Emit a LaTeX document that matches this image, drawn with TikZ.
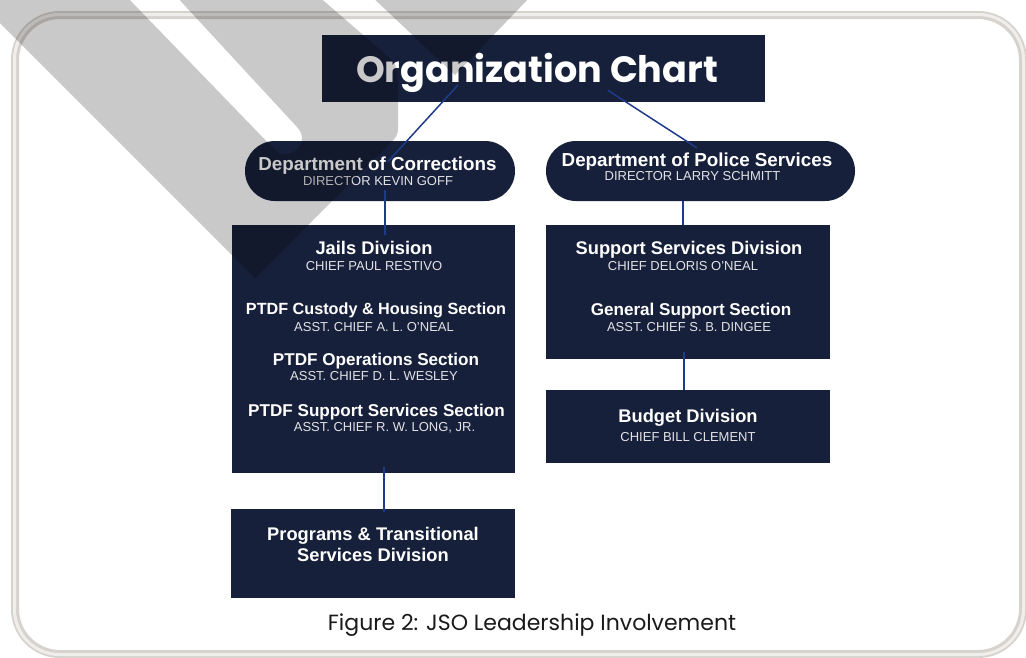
\documentclass[tikz,border=0pt]{standalone}
\usepackage{fontspec}
\setmainfont{Liberation Sans}
\newfontfamily\poppins{Poppins}
\usetikzlibrary{calc}
\definecolor{navy}{RGB}{23,32,58}
\definecolor{linkblue}{RGB}{30,58,138}
\definecolor{subgray}{RGB}{226,226,230}
\definecolor{framegray}{RGB}{214,210,206}
\definecolor{framelight}{RGB}{240,238,235}
\definecolor{captext}{RGB}{26,26,26}
\begin{document}
\begin{tikzpicture}[x=1pt,y=-1pt,
  box/.style={fill=navy, draw=none, inner sep=0pt},
  pill/.style={box, rounded corners=29.9pt},
  hd/.style={text=white, font=\bfseries\fontsize{18.3}{20}\selectfont, inner sep=0pt, anchor=base},
  dept/.style={text=white, font=\bfseries\fontsize{18.8}{20}\selectfont, inner sep=0pt, anchor=base},
  sec/.style={text=white, font=\bfseries\fontsize{17.1}{19}\selectfont, inner sep=0pt, anchor=base},
  sub/.style={text=subgray, font=\fontsize{13}{15}\selectfont, inner sep=0pt, anchor=base},
  link/.style={draw=linkblue, line width=1.5pt}
]
\useasboundingbox (0,0) rectangle (1026,657);
\fill[white] (0,0) rectangle (1026,657);
% frame
\draw[framegray, line width=8pt, rounded corners=45pt] (15,15) rectangle (1023,654);
\draw[framelight, line width=3pt, rounded corners=45pt] (14.5,14.5) rectangle (1023.5,654.5);

% boxes
\node[box, minimum width=443pt, minimum height=66.5pt] (title) at (543.5,68.25) {};
\node[pill, minimum width=270pt, minimum height=60pt] (corr) at (380,171) {};
\node[pill, minimum width=309pt, minimum height=60pt] (police) at (700.5,171) {};
\node[box, minimum width=283pt, minimum height=248pt] (jails) at (373.5,349) {};
\node[box, minimum width=284pt, minimum height=134pt] (support) at (688,292) {};
\node[box, minimum width=284pt, minimum height=73pt] (budget) at (688,426.5) {};
\node[box, minimum width=284pt, minimum height=89pt] (programs) at (373,553.5) {};

% texts
\node[text=white, font=\poppins\bfseries\fontsize{36.6}{40}\selectfont, inner sep=0pt, anchor=base] (titleT) at (537,82) {Organization Chart};
\node[dept] (corrT) at (377.5,170) {Department of Corrections};
\node[sub] (corrS) at (378,185.5) {DIRECTOR KEVIN GOFF};
\node[dept] (polT) at (697,166.5) {Department of Police Services};
\node[sub] (polS) at (692.5,180.7) {DIRECTOR LARRY SCHMITT};
\node[hd] (jailsT) at (374,254.3) {Jails Division};
\node[sub] (jailsS) at (374,270) {CHIEF PAUL RESTIVO};
\node[sec, font=\bfseries\fontsize{16.2}{19}\selectfont] (custT) at (376,314) {PTDF Custody \& Housing Section};
\node[sub] (custS) at (374,331) {ASST. CHIEF A. L. O’NEAL};
\node[sec] (opsT) at (376,365) {PTDF Operations Section};
\node[sub] (opsS) at (374,380.7) {ASST. CHIEF D. L. WESLEY};
\node[sec] (pssT) at (376.5,416.7) {PTDF Support Services Section};
\node[sub] (pssS) at (384.5,431) {ASST. CHIEF R. W. LONG, JR.};
\node[hd] (ssdT) at (689,254.3) {Support Services Division};
\node[sub] (ssdS) at (683,270) {CHIEF DELORIS O’NEAL};
\node[sec] (gssT) at (691,315.5) {General Support Section};
\node[sub] (gssS) at (689,331) {ASST. CHIEF S. B. DINGEE};
\node[hd] (budT) at (688,422.3) {Budget Division};
\node[sub] (budS) at (688,441.7) {CHIEF BILL CLEMENT};
\node[hd] (progT1) at (373,540.7) {Programs \& Transitional};
\node[hd] (progT2) at (373,561) {Services Division};
\node[text=captext, font=\poppins\fontsize{22}{24}\selectfont, inner sep=0pt, anchor=base] (caption) at (532,630.5) {Figure 2: JSO Leadership Involvement};

% connectors
\coordinate (t1) at ($(title.south west)+(136,-16.5)$);
\coordinate (c1) at ($(corr.north west)+(143,21)$);
\coordinate (t2) at ($(title.south west)+(286,-11.5)$);
\coordinate (p1) at ($(police.north west)+(151,7)$);
\coordinate (c2) at ($(corr.south)+(5,-11)$);
\coordinate (j1) at ($(jails.north)+(11.5,10)$);
\coordinate (p2) at ($(police.south)+(-17.5,0)$);
\coordinate (s1) at ($(support.north)+(-5,0)$);
\coordinate (j2) at ($(jails.south)+(10.5,-6)$);
\coordinate (g1) at ($(programs.north)+(11,3)$);
\coordinate (s2) at ($(support.south)+(-4,-7)$);
\coordinate (b1) at ($(budget.north)+(-4,0)$);
\draw[link] (t1) -- (c1);
\draw[link] (t2) -- (p1);
\draw[link] (c2) -- (j1);
\draw[link] (p2) -- (s1);
\draw[link] (j2) -- (g1);
\draw[link] (s2) -- (b1);

% watermark
\fill[black, fill opacity=0.21, even odd rule]
  (-5,-5) -- (317,-5) -- (392,60) .. controls (398,66) and (398,80) .. (398,100)
  -- (398,128) .. controls (398,136) and (395,139) .. (390,143) -- (255,278) -- (-5,18) -- cycle
  (125,-5) -- (175,-5) -- (297,127) .. controls (312,142) and (289.5,164.5) .. (274.5,149.5) -- cycle
  (370,-5) -- (532,-5) -- (455,75) -- cycle;
\end{tikzpicture}
\end{document}
